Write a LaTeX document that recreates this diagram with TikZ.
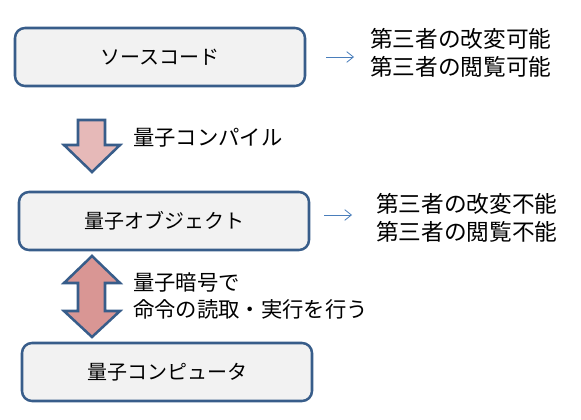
\documentclass[tikz,border=0pt]{standalone}
\usepackage{fontspec}
\setmainfont{Noto Sans CJK JP}
\usepackage{tikz}
\usetikzlibrary{arrows.meta}
\definecolor{boxblue}{RGB}{56,93,138}
\definecolor{boxgray}{RGB}{242,242,242}
\definecolor{lightrose}{RGB}{230,185,184}
\definecolor{deeprose}{RGB}{217,150,148}
\definecolor{noteblue}{RGB}{74,126,187}
\tikzset{
  stage/.style    = {rectangle, rounded corners=7.5pt, draw=boxblue, line width=1.9pt, fill=boxgray,
                     minimum width=217.5pt, minimum height=43.5pt, inner sep=0pt, font=\fontsize{15}{18}\selectfont},
  note/.style     = {anchor=west, align=left, inner sep=0pt, font=\fontsize{17}{21}\selectfont},
  steplabel/.style= {anchor=west, align=left, inner sep=0pt, font=\fontsize{16}{20}\selectfont},
  blockarrow/.style = {draw=boxblue, line width=1.9pt, line join=miter},
  thinarrow/.style  = {-{Straight Barb[length=5pt,width=8pt]}, draw=noteblue, line width=0.6pt},
}
\begin{document}
\begin{tikzpicture}[x=0.75pt, y=-0.75pt]
    \useasboundingbox (0,0) rectangle (581,420);

    % ── Stages (rounded boxes) ──────────────────────────────────
    \node[stage] (src)  at (160, 57)  {ソースコード};
    \node[stage] (obj)  at (164, 221) {量子オブジェクト};
    \node[stage] (qpu)  at (167, 372) {量子コンピュータ};

    % ── Notes on the right ──────────────────────────────────────
    \node[note] (srcnote) at (370, 53)  {第三者の改変可能\\第三者の閲覧可能};
    \node[note] (objnote) at (376, 218) {第三者の改変不能\\第三者の閲覧不能};
    \draw[thinarrow] (326, 57)  coordinate (srcout) -- (354, 57)  coordinate (srcin);
    \draw[thinarrow] (324, 215) coordinate (objout) -- (352, 215) coordinate (objin);

    % ── Block arrows between stages ─────────────────────────────
    \draw[blockarrow, fill=lightrose]
      (78,120) -- (105,120) -- (105,145) -- (120,145) -- (92,172)
      -- (64,145) -- (78,145) -- cycle;
    \draw[blockarrow, fill=deeprose]
      (92,256) -- (120,283) -- (105,283) -- (105,311) -- (120,311) -- (92,337)
      -- (64,311) -- (78,311) -- (78,283) -- (64,283) -- cycle;

    % ── Arrow labels ────────────────────────────────────────────
    \node[steplabel] (compile) at (133, 138) {量子コンパイル};
    \node[steplabel] (exec)    at (133, 296) {量子暗号で\\命令の読取・実行を行う};
  \end{tikzpicture}
\end{document}
